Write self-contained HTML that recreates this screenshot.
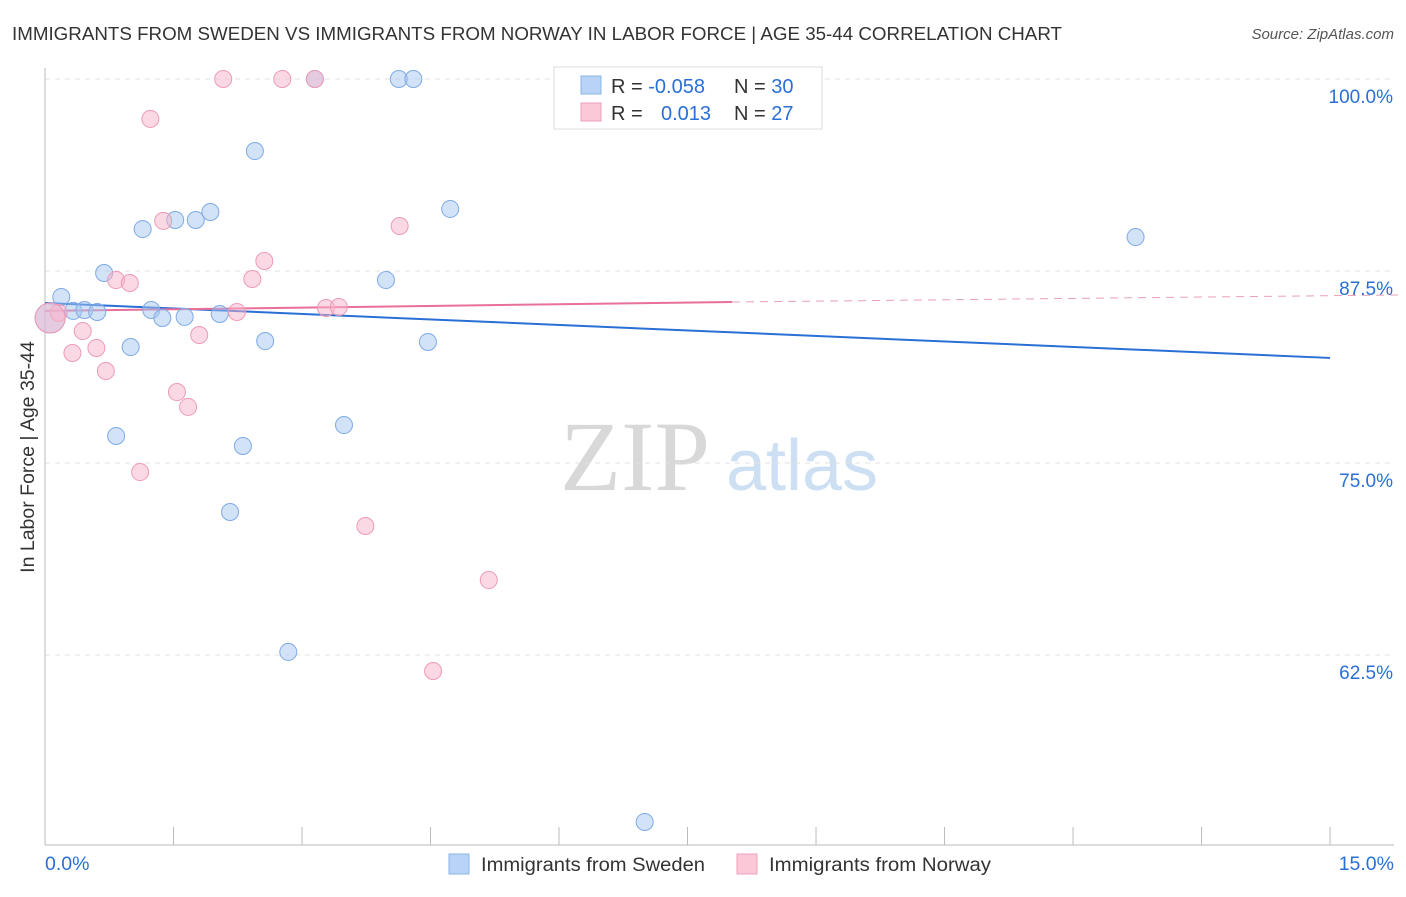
<!DOCTYPE html>
<html><head><meta charset="utf-8"><style>
body{margin:0;background:#fff;font-family:"Liberation Sans",sans-serif;}
svg text{font-family:"Liberation Sans",sans-serif;}
svg text.serif{font-family:"Liberation Serif",serif;}
</style></head><body>
<svg id="chart" width="1406" height="892">
<text x="12" y="40" font-size="18" fill="#333" textLength="1050" lengthAdjust="spacingAndGlyphs">IMMIGRANTS FROM SWEDEN VS IMMIGRANTS FROM NORWAY IN LABOR FORCE | AGE 35-44 CORRELATION CHART</text>
<text x="1394" y="39" font-size="15" fill="#555" font-style="italic" text-anchor="end">Source: ZipAtlas.com</text>
<text x="34" y="457" font-size="19.5" fill="#333" text-anchor="middle" transform="rotate(-90 34 457)">In Labor Force | Age 35-44</text>
<g>
<text class="serif" x="635" y="490" font-size="100" fill="#d8d8d8" text-anchor="middle">ZIP</text>
<text x="802" y="490" font-size="72" fill="#cddff3" text-anchor="middle">atlas</text>
</g>
<g id="grid"></g><g id="axes"></g><g id="lines"></g><g id="dots"></g>
<g>
<rect x="554" y="67" width="268" height="62" fill="#fff" stroke="#ddd"/>
<rect x="581" y="76" width="20" height="18" fill="#b8d3f5" stroke="#8ab4e8"/>
<rect x="581" y="103" width="20" height="18" fill="#fbc8d8" stroke="#f0a0b8"/>
<text x="611" y="93" font-size="20" fill="#333">R = <tspan fill="#2a6fd6">-0.058</tspan></text>
<text x="734" y="93" font-size="20" fill="#333">N = <tspan fill="#2a6fd6">30</tspan></text>
<text x="611" y="120" font-size="20" fill="#333">R =</text>
<text x="661" y="120" font-size="20" fill="#2a6fd6">0.013</text>
<text x="734" y="120" font-size="20" fill="#333">N = <tspan fill="#2a6fd6">27</tspan></text>
</g>
<g>
<rect x="449" y="854" width="20" height="20" fill="#b8d3f5" stroke="#8ab4e8"/>
<text x="481" y="871" font-size="19" fill="#333" textLength="224" lengthAdjust="spacingAndGlyphs">Immigrants from Sweden</text>
<rect x="737" y="854" width="20" height="20" fill="#fbc8d8" stroke="#f0a0b8"/>
<text x="769" y="871" font-size="19" fill="#333" textLength="222" lengthAdjust="spacingAndGlyphs">Immigrants from Norway</text>
</g>
</svg>
<script>
const yTicks=[100,87.5,75,62.5];
const yTickLabels=["100.0%","87.5%","75.0%","62.5%"];
const xTickLabels=["0.0%","15.0%"];
const swedenX=[0.19,0.33,0.46,0.61,0.69,0.83,1.00,1.14,1.24,1.37,1.52,1.63,1.76,1.93,2.04,2.16,2.31,2.45,2.57,2.84,3.15,3.49,3.98,4.13,4.30,4.47,4.73,7.00,12.73,0.06];
const swedenY=[85.81,84.90,84.96,84.83,87.37,76.76,82.55,90.23,84.96,84.44,90.82,84.51,90.82,91.34,84.70,71.81,76.11,95.31,82.94,62.70,100,77.47,86.91,100,100,82.88,91.54,51.63,89.71,84.44];
const norwayX=[0.16,0.32,0.44,0.60,0.71,0.83,0.99,1.11,1.23,1.38,1.54,1.67,1.80,2.08,2.24,2.42,2.56,2.77,3.15,3.28,3.43,3.74,4.14,4.53,5.18,7.81,0.06];
const norwayY=[84.77,82.16,83.59,82.49,80.99,86.91,86.72,74.41,97.40,90.76,79.62,78.65,83.33,100,84.83,86.98,88.15,100,100,85.09,85.16,70.90,90.43,61.46,67.38,100,84.44];
const swedenTrend=[85.42,81.84];
const norwayTrend=[84.90,85.48,85.94];
const norwayTrendSolidEnd=8.02;
const NS="http://www.w3.org/2000/svg";
const X=v=>45+v*85.67, Y=v=>79+(100-v)*15.36;
function mk(p,t,a){const e=document.createElementNS(NS,t);for(const k in a)e.setAttribute(k,a[k]);document.getElementById(p).appendChild(e);return e;}
yTicks.forEach((t,i)=>{
 const l=mk('grid','line',{x1:45,x2:1394,y1:Y(t),y2:Y(t),stroke:'#e2e2e2','stroke-dasharray':'5,5'});
 
 
 const tx=mk('grid','text',{x:1393,y:Y(t)+24,'font-size':19,fill:'#2a6fd6','text-anchor':'end'});
 tx.textContent=yTickLabels[i];
 
 
});
let a=mk('axes','line',{x1:45,x2:45,y1:68,y2:845,stroke:'#bbb'});


a=mk('axes','line',{x1:45,x2:1394,y1:845,y2:845,stroke:'#bbb'});


for(let i=0;i<=10;i++){const t=mk('axes','line',{x1:X(i*1.5),x2:X(i*1.5),y1:827,y2:845,stroke:'#bbb'});
 
 }
[[0,'start',45],[15,'end',1394]].forEach((d,i)=>{const t=mk('axes','text',{x:d[2],y:870,'font-size':19.5,fill:'#2a6fd6','text-anchor':d[1]});t.textContent=xTickLabels[i];
 
 });
let l=mk('lines','line',{x1:X(0),y1:Y(swedenTrend[0]),x2:X(15),y2:Y(swedenTrend[1]),stroke:'#2a6fd6','stroke-width':2});


l=mk('lines','line',{x1:X(0),y1:Y(norwayTrend[0]),x2:X(norwayTrendSolidEnd),y2:Y(norwayTrend[1]),stroke:'#e8709a','stroke-width':2});


l=mk('lines','line',{x1:X(norwayTrendSolidEnd),y1:Y(norwayTrend[1]),x2:X(15.8),y2:Y(norwayTrend[2]),stroke:'#e8a0b8','stroke-width':1,'stroke-dasharray':'8,6'});


function dots(xs,ys,fill,stroke,name){xs.forEach((x,i)=>{const big=i===xs.length-1;
 const c=mk('dots','circle',{cx:X(x),cy:Y(ys[i]),r:big?15:8.5,fill:fill,stroke:stroke,'stroke-width':1});
 
 });}
dots(swedenX,swedenY,'rgba(165,198,240,0.5)','#7eaae6','sweden-point');
dots(norwayX,norwayY,'rgba(248,180,202,0.5)','#ee9ab6','norway-point');
</script>
</body></html>
